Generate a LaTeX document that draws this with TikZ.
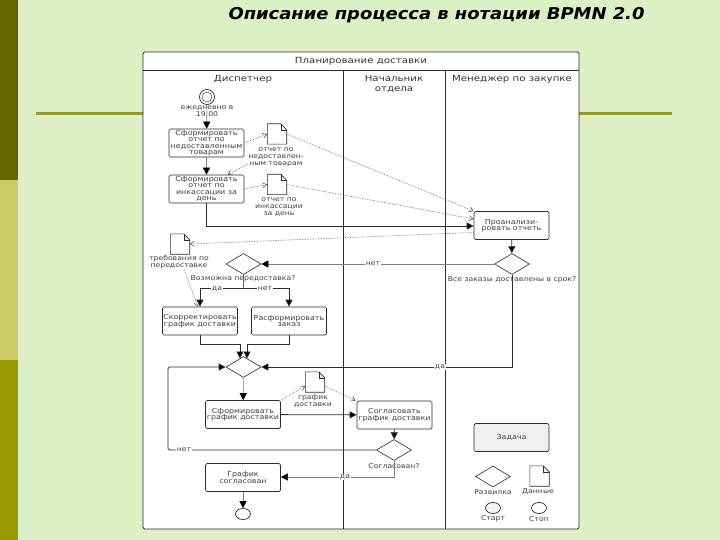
\documentclass[tikz,border=0pt]{standalone}
\usepackage{fontspec}
\setmainfont{DejaVu Sans}
\newfontfamily\dfont[FakeStretch=1.15]{DejaVu Sans}
\newfontfamily\hfont[FakeStretch=1.22]{DejaVu Sans}
\newfontfamily\tfont[FakeStretch=1.1]{DejaVu Sans}
\usetikzlibrary{shapes.geometric,arrows.meta}
\definecolor{bgc}{HTML}{DDEFC4}
\definecolor{barA}{HTML}{666600}
\definecolor{barB}{HTML}{CCCC66}
\definecolor{barC}{HTML}{999900}
\definecolor{rulec}{HTML}{99992B}
\definecolor{inkc}{HTML}{2B2B2B}
\newcommand{\docnode}[2]{%
  \node[docbox] (#1) at (#2) {};
  \draw[inkc,line width=.6pt,fill=white,line join=round]
    (#1.north west) -- ([xshift=-6pt]#1.north east) -- ([yshift=-6pt]#1.north east)
    -- (#1.south east) -- (#1.south west) -- cycle;
  \draw[inkc,line width=.4pt] ([xshift=-6pt]#1.north east) -- ([xshift=-6pt,yshift=-6pt]#1.north east) -- ([yshift=-6pt]#1.north east);
}
\tikzset{
  txt/.style={font=\dfont\fontsize{6.9}{6.5}\selectfont,text=black!75,align=center,inner sep=0pt},
  smalltxt/.style={txt,font=\dfont\fontsize{6.7}{7}\selectfont},
  head/.style={font=\hfont\fontsize{8.4}{9.5}\selectfont,text=black!80,align=center,inner sep=0pt},
  task/.style={draw=inkc,line width=.7pt,fill=white,rounded corners=1.5pt,minimum width=75pt,minimum height=28pt,inner sep=0pt,txt},
  gate/.style={draw=inkc,line width=.6pt,fill=white,diamond,minimum width=35pt,minimum height=21pt,inner sep=0pt},
  docbox/.style={draw=none,minimum width=19pt,minimum height=20pt,inner sep=0pt},
  flow/.style={draw=inkc,line width=.8pt,-{Triangle[length=7pt,width=7pt,fill=black]}},
  plain/.style={draw=inkc,line width=.8pt},
  thin flow/.style={draw=black!50,line width=.6pt,-{Triangle[length=7pt,width=7pt,color=black]}},
  data/.style={draw=black!65,line width=.6pt,densely dotted,-{Straight Barb[length=4pt,width=5pt]}},
  ev/.style={draw=inkc,line width=.7pt,fill=white,ellipse,minimum width=15pt,minimum height=11pt,inner sep=0pt},
}
\begin{document}
\begin{tikzpicture}[x=1pt,y=-1pt]
\useasboundingbox (0,0) rectangle (720,540);
\fill[bgc] (0,0) rectangle (720,540);
\fill[barA] (0,0) rectangle (18,180);
\fill[barB] (0,180) rectangle (18,360);
\fill[barC] (0,360) rectangle (18,540);
\fill[rulec] (36,112.5) rectangle (672,115.5);
\node[font=\tfont\fontsize{16.3}{18}\selectfont\bfseries\itshape,inner sep=0pt] (title) at (436.5,15) {Описание процесса в нотации BPMN 2.0};
% pool
\draw[inkc,line width=.8pt,fill=white,rounded corners=1.5pt] (143,52) rectangle (579,529);
\draw[inkc,line width=.7pt] (143,70) -- (579,70);
\draw[inkc,line width=.8pt] (343,70) -- (343,529);
\draw[inkc,line width=.8pt] (445,70) -- (445,529);
\node[head] (pooltitle) at (361,61) {Планирование доставки};
\node[head] (lane1) at (243,79) {Диспетчер};
\node[head] (lane2) at (394,84) {Начальник\\отдела};
\node[head] (lane3) at (512,79) {Менеджер по закупке};
% start
\node[ev,minimum width=15pt,minimum height=15pt,circle] (start) at (207,97) {};
\node[draw=inkc,line width=.4pt,circle,minimum size=10pt,inner sep=0pt] (startin) at (207,97) {};
\node[smalltxt] (startlbl) at (207,111) {ежедневно в\\19:00};
% tasks
\node[task] (t1) at (206.5,143) {Сформировать\\отчет по\\недоставленным\\товарам};
\node[task] (t2) at (206.5,189) {Сформировать\\отчет по\\инкассации за\\день};
\node[task] (t3) at (200,321) {Скорректировать\\график доставки};
\node[task] (t4) at (289,321) {Расформировать\\заказ};
\node[task] (t5) at (511.5,225.5) {Проанализи-\\ровать отчеть};
\node[task] (t6) at (243,414.5) {Сформировать\\график доставки};
\node[task] (t7) at (394.5,415) {Согласовать\\график доставки};
\node[task] (t8) at (243,477.5) {График\\согласован};
% gateways
\node[gate] (g1) at (243.5,264) {};
\node[gate] (g2) at (243.5,367) {};
\node[gate] (g3) at (512,264) {};
\node[gate] (g4) at (394,450) {};
\node[smalltxt] (g1l) at (243,279) {Возможна передоставка?};
\node[smalltxt] (g3l) at (512,280) {Все заказы доставлены в срок?};
\node[smalltxt] (g4l) at (394,466) {Согласован?};
% documents
\docnode{d1}{277,134}
\docnode{d2}{277,184.5}
\docnode{d3}{180,244}
\docnode{d4}{315,382}
\node[smalltxt] (d1l) at (276,157) {отчет по\\недоставлен-\\ным товарам};
\node[smalltxt] (d2l) at (279,207) {отчет по\\инкассации\\за день};
\node[smalltxt] (d3l) at (179,262) {требования по\\передоставке};
\node[smalltxt] (d4l) at (313,401) {график\\доставки};
% end
\node[ev] (stop) at (243,514) {};
% sequence flows
\draw[thin flow] (start) -- (t1);
\draw[thin flow] (t1) -- (t2);
\coordinate (c226) at (206.5,226);
\draw[flow] (t2.south) -- (c226) -- (c226 -| t5.west);
\draw[flow] (t5) -- (g3);
\draw[thin flow] (g3) -- (g1);
\node[smalltxt,fill=white,inner sep=1pt] (net0) at (373,264) {нет};
\coordinate (split) at (243.5,288);
\draw[plain,black!60] (g1) -- (split);
\draw[flow] (split) -- (split -| t3) -- (t3.north);
\draw[flow] (split) -- (split -| t4) -- (t4.north);
\node[smalltxt,fill=white,inner sep=1pt] (da1) at (217,289) {да};
\node[smalltxt,fill=white,inner sep=1pt] (net1) at (265,289) {нет};
\coordinate (m1) at (240,344);
\coordinate (m2) at (247,344);
\coordinate (g2a) at (240,358.5);
\coordinate (g2b) at (247,358.5);
\draw[flow] (t3.south) -- (t3.south |- m1) -- (m1) -- (g2a);
\draw[flow] (t4.south) -- (t4.south |- m2) -- (m2) -- (g2b);
\draw[flow] (g3.south) -- (g3.south |- g2.east) -- (g2.east);
\node[smalltxt,fill=white,inner sep=1pt] (da2) at (440,367) {да};
\coordinate (lb) at (168,450);
\coordinate (lt) at (168,367);
\draw[flow,rounded corners=1.5pt] (g4.west) -- (lb) -- (lt) -- (g2.west);
\node[smalltxt,fill=white,inner sep=1pt] (net2) at (184,450) {нет};
\draw[thin flow] (g2) -- (t6);
\draw[flow] (t6) -- (t7);
\draw[flow] (t7) -- (g4);
\coordinate (g4b) at (394,477);
\draw[thin flow] (g4.south) -- (g4b) -- (g4b -| t8.east);
\node[smalltxt,fill=white,inner sep=1pt] (da3) at (345,477) {да};
\draw[thin flow] (t8) -- (stop);
% data flows
\draw[data] (t1.east) -- (d1.west);
\draw[data] ([yshift=3pt]d1l.south west) -- ([xshift=21pt]t2.north);
\draw[data] (t2.east) -- (d2.west);
\draw[data] (d1.east) -- (t5.north west);
\draw[data] (d2.east) -- ([yshift=6.5pt]t5.west);
\draw[data] ([yshift=-7pt]t5.west) -- (d3.east);
\draw[data] ([xshift=5pt]d3l.south) -- ([xshift=-2pt]t3.north);
\draw[data] (t6.north east) -- ([yshift=-4pt]d4.west);
\draw[data] ([yshift=-4pt]d4.east) -- ([xshift=-1pt]t7.north west);
% legend
\node[task,draw=inkc,fill=black!6] (lt1) at (511.5,437.5) {Задача};
\node[gate] (lg) at (493,476.5) {};
\docnode{ld}{539.5,476}
\node[smalltxt] (lgl) at (493,492) {Развилка};
\node[smalltxt] (ldl) at (538,492) {Данные};
\node[ev,fill=black!5] (ls) at (493,508) {};
\node[ev] (lst) at (539,508) {};
\node[smalltxt] (lsl) at (493,519) {Старт};
\node[smalltxt] (lstl) at (539,519) {Стоп};
\end{tikzpicture}
\end{document}
